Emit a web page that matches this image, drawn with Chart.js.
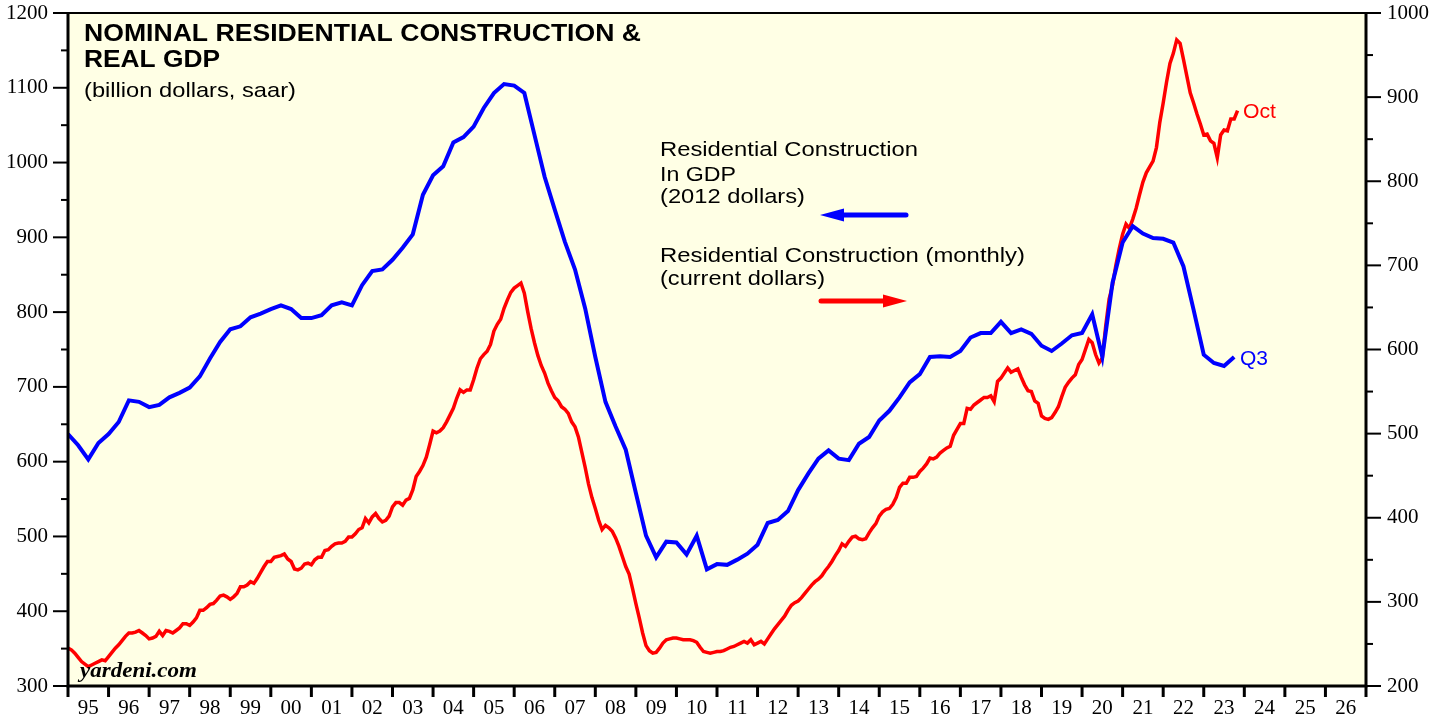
<!DOCTYPE html>
<html>
<head>
<meta charset="utf-8">
<style>
  html, body { margin: 0; padding: 0; background: #fff; }
  #wrap { width: 1446px; height: 719px; }
</style>
<script src="https://cdn.jsdelivr.net/npm/chart.js@4.4.0/dist/chart.umd.min.js"></script>
</head>
<body>
<div id="wrap"><canvas id="chart" width="1446" height="719"></canvas></div>
<script>
// Real residential construction in GDP, quarterly, 2012 dollars (left axis), from 1994Q4 to 2023Q3
const blueQuarterly = [
  637,
  622, 603, 625, 637,      // 95
  653, 682, 680, 673,      // 96
  676, 686, 692, 699,      // 97
  714, 738, 760, 777,      // 98
  781, 793, 798, 804,      // 99
  809, 804, 792, 792,      // 00
  796, 809, 813, 809,      // 01
  836, 855, 857, 870,      // 02
  886, 904, 957, 983,      // 03
  995, 1027, 1034, 1048,   // 04
  1073, 1093, 1105, 1103,  // 05
  1093, 1037, 981, 937,    // 06
  894, 857, 805, 740,      // 07
  680, 647, 616, 558,      // 08
  501, 472, 493, 492,      // 09
  476, 501, 456, 463,      // 10
  462, 469, 477, 489,      // 11
  518, 522, 534, 562,      // 12
  584, 604, 615, 604,      // 13
  602, 624, 633, 655,      // 14
  668, 686, 706, 717,      // 15
  740, 741, 740, 748,      // 16
  766, 772, 772, 787,      // 17
  772, 777, 771, 755,      // 18
  748, 758, 769, 772,      // 19
  797, 740, 839, 893,      // 20
  915, 905, 899, 898,      // 21
  893, 861, 803, 743,      // 22
  732, 728, 740            // 23
];

// Nominal residential construction, monthly, current dollars (right axis), Dec 1994 to Oct 2023
const redMonthly = [
  245,
  243, 239, 234, 229, 226, 223, 225, 227, 229, 231, 230, 235,   // 95
  240, 245, 249, 254, 259, 263, 263, 264, 266, 263, 260, 256,   // 96
  257, 259, 265, 260, 266, 265, 263, 266, 269, 274, 274, 272,   // 97
  276, 281, 290, 290, 293, 297, 298, 302, 307, 308, 306, 303,   // 98
  306, 310, 318, 318, 320, 324, 322, 328, 335, 342, 348, 348,   // 99
  353, 354, 355, 357, 351, 348, 339, 338, 340, 345, 346, 344,   // 00
  350, 353, 353, 361, 362, 366, 369, 370, 370, 372, 377, 377,   // 01
  381, 386, 388, 399, 394, 401, 405, 399, 395, 397, 402, 413,   // 02
  418, 418, 415, 421, 423, 433, 449, 455, 462, 472, 487, 503,   // 03
  501, 503, 507, 514, 522, 530, 542, 552, 549, 552, 552, 564,   // 04
  578, 589, 594, 598, 606, 622, 630, 636, 649, 659, 668, 673,   // 05
  676, 679, 667, 645, 625, 608, 593, 581, 572, 560, 551, 543,   // 06
  539, 532, 529, 524, 514, 508, 496, 478, 460, 440, 424, 411,   // 07
  397, 386, 391, 388, 384, 376, 366, 354, 342, 333, 316, 298,   // 08
  281, 263, 248, 242, 239, 240, 245, 251, 255, 256, 257, 257,   // 09
  256, 255, 255, 255, 254, 252, 246, 241, 240, 239, 240, 241,   // 10
  241, 242, 244, 246, 247, 249, 251, 253, 251, 255, 249, 251,   // 11
  253, 250, 256, 262, 268, 273, 278, 283, 290, 296, 299, 301,   // 12
  305, 310, 315, 320, 324, 327, 331, 337, 342, 348, 355, 361,   // 13
  369, 366, 372, 377, 378, 375, 374, 375, 382, 388, 393, 402,   // 14
  407, 410, 411, 416, 424, 436, 441, 441, 448, 448, 449, 455,   // 15
  459, 464, 471, 470, 472, 477, 480, 483, 485, 498, 505, 512,   // 16
  512, 530, 529, 534, 537, 540, 543, 543, 545, 538, 562, 566,   // 17
  572, 578, 573, 575, 577, 567, 558, 551, 550, 539, 536, 521,   // 18
  518, 517, 519, 525, 532, 544, 555, 561, 566, 570, 582, 588,   // 19
  600, 612, 608, 594, 584, 590, 628, 660, 676, 700, 720, 737,   // 20
  749, 744, 755, 768, 784, 799, 810, 817, 824, 840, 870, 893,   // 21
  918, 940, 952, 968, 964, 945, 925, 905, 893, 880, 868, 855,   // 22
  856, 848, 845, 828, 855, 861, 860, 874, 874, 884              // 23
];

const xTickLabels = ['95','96','97','98','99','00','01','02','03','04','05','06','07','08','09','10',
                     '11','12','13','14','15','16','17','18','19','20','21','22','23','24','25','26'];
const firstYear = 1995;

const bluePoints = blueQuarterly.map((v, i) => ({ x: firstYear + i / 4, y: v }));
const redPoints = redMonthly.map((v, i) => ({ x: firstYear + i / 12, y: v }));

const tickFont = { family: 'Liberation Serif', size: 21 };

function fitText(ctx, s, x, y, font, color, w) {
  ctx.save();
  ctx.font = font;
  ctx.fillStyle = color;
  ctx.textBaseline = 'alphabetic';
  ctx.textAlign = 'left';
  const m = ctx.measureText(s).width;
  ctx.translate(x, y);
  ctx.scale(w / m, 1);
  ctx.fillText(s, 0, 0);
  ctx.restore();
}

function arrow(ctx, x1, x2, y, color, headLeft) {
  ctx.save();
  ctx.strokeStyle = color;
  ctx.fillStyle = color;
  ctx.lineWidth = 5;
  ctx.lineCap = 'round';
  ctx.beginPath();
  if (headLeft) { ctx.moveTo(x1 + 18, y); ctx.lineTo(x2, y); }
  else { ctx.moveTo(x1, y); ctx.lineTo(x2 - 18, y); }
  ctx.stroke();
  ctx.beginPath();
  if (headLeft) { ctx.moveTo(x1, y); ctx.lineTo(x1 + 24, y - 6.5); ctx.lineTo(x1 + 24, y + 6.5); }
  else { ctx.moveTo(x2, y); ctx.lineTo(x2 - 24, y - 6.5); ctx.lineTo(x2 - 24, y + 6.5); }
  ctx.closePath();
  ctx.fill();
  ctx.restore();
}

// drop the label overhang padding chart.js adds so the plot fills the frame
function noPad(s) {
  s.paddingTop = 0; s.paddingBottom = 0; s.paddingLeft = 0; s.paddingRight = 0;
}

const decorations = {
  id: 'decorations',
  beforeDraw(chart) {
    const { ctx, chartArea: a } = chart;
    ctx.save();
    ctx.fillStyle = '#fff';
    ctx.fillRect(0, 0, chart.width, chart.height);
    ctx.fillStyle = '#FFFFE5';
    ctx.fillRect(a.left, a.top, a.right - a.left, a.bottom - a.top);
    ctx.restore();
  },
  afterDatasetsDraw(chart) {
    const { ctx, chartArea: a, scales } = chart;
    ctx.save();
    ctx.strokeStyle = '#000';

    // y tick marks
    ctx.lineWidth = 2;
    for (let v = 300; v <= 1200; v += 50) {
      const y = scales.yL.getPixelForValue(v);
      const len = v % 100 === 0 ? 15 : 7;
      ctx.beginPath(); ctx.moveTo(a.left - len, y); ctx.lineTo(a.left, y); ctx.stroke();
    }
    for (let v = 200; v <= 1000; v += 50) {
      const y = scales.yR.getPixelForValue(v);
      const len = v % 100 === 0 ? 15 : 7;
      ctx.beginPath(); ctx.moveTo(a.right, y); ctx.lineTo(a.right + len, y); ctx.stroke();
    }
    // year boundary marks
    ctx.lineWidth = 3;
    for (let yr = firstYear; yr <= firstYear + xTickLabels.length; yr++) {
      const x = scales.x.getPixelForValue(yr);
      ctx.beginPath(); ctx.moveTo(x, a.bottom); ctx.lineTo(x, a.bottom + 11); ctx.stroke();
    }

    // frame
    ctx.lineWidth = 3;
    ctx.beginPath();
    ctx.moveTo(a.left, a.top); ctx.lineTo(a.left, a.bottom); ctx.lineTo(a.right, a.bottom); ctx.lineTo(a.right, a.top);
    ctx.stroke();
    ctx.lineWidth = 2;
    ctx.beginPath(); ctx.moveTo(a.left, a.top); ctx.lineTo(a.right, a.top); ctx.stroke();

    // title and notes
    fitText(ctx, 'NOMINAL RESIDENTIAL CONSTRUCTION &', 84, 41, 'bold 23px "Liberation Sans"', '#000', 557);
    fitText(ctx, 'REAL GDP', 84, 67, 'bold 23px "Liberation Sans"', '#000', 136);
    fitText(ctx, '(billion dollars, saar)', 84, 97, '21px "Liberation Sans"', '#000', 212);

    fitText(ctx, 'Residential Construction', 660, 156, '21px "Liberation Sans"', '#000', 258);
    fitText(ctx, 'In GDP', 660, 181, '21px "Liberation Sans"', '#000', 76);
    fitText(ctx, '(2012 dollars)', 660, 203, '21px "Liberation Sans"', '#000', 145);
    arrow(ctx, 820, 906, 215, '#0000FF', true);

    fitText(ctx, 'Residential Construction (monthly)', 660, 262, '21px "Liberation Sans"', '#000', 365);
    fitText(ctx, '(current dollars)', 660, 285, '21px "Liberation Sans"', '#000', 165);
    arrow(ctx, 821, 907, 301, '#FF0000', false);

    fitText(ctx, 'Oct', 1243, 118, '21px "Liberation Sans"', '#FF0000', 33);
    fitText(ctx, 'Q3', 1240, 365, '21px "Liberation Sans"', '#0000FF', 28);

    fitText(ctx, 'yardeni.com', 80, 677, 'italic bold 22px "Liberation Serif"', '#000', 117);
    ctx.restore();
  }
};

new Chart(document.getElementById('chart'), {
  type: 'line',
  data: {
    datasets: [
      {
        label: 'Residential Construction In GDP (2012 dollars)',
        data: bluePoints,
        yAxisID: 'yL',
        borderColor: '#0000FF',
        borderWidth: 4,
        pointRadius: 0,
        tension: 0
      },
      {
        label: 'Residential Construction (monthly) (current dollars)',
        data: redPoints,
        yAxisID: 'yR',
        borderColor: '#FF0000',
        borderWidth: 3.5,
        pointRadius: 0,
        tension: 0
      }
    ]
  },
  options: {
    responsive: false,
    devicePixelRatio: 1,
    animation: false,
    parsing: false,
    layout: { autoPadding: false, padding: { top: 13, left: 0, right: 0, bottom: 0 } },
    plugins: { legend: { display: false }, tooltip: { enabled: false } },
    scales: {
      x: {
        type: 'linear',
        position: 'bottom',
        min: firstYear,
        max: firstYear + xTickLabels.length,
        grid: { display: false, drawTicks: false },
        border: { display: false },
        afterBuildTicks: s => { s.ticks = xTickLabels.map((_, i) => ({ value: firstYear + i + 0.5 })); },
        ticks: {
          autoSkip: false, maxRotation: 0, minRotation: 0, padding: 10,
          color: '#000', font: tickFont,
          callback: (v, i) => xTickLabels[i]
        },
        afterFit: s => { s.height = 33; noPad(s); }
      },
      yL: {
        type: 'linear',
        position: 'left',
        min: 300, max: 1200,
        grid: { display: false, drawTicks: false },
        border: { display: false },
        ticks: { stepSize: 50, padding: 20, color: '#000', font: tickFont,
                 callback: v => (v % 100 === 0 ? String(v) : '') },
        afterFit: s => { s.width = 68; noPad(s); }
      },
      yR: {
        type: 'linear',
        position: 'right',
        min: 200, max: 1000,
        grid: { display: false, drawTicks: false },
        border: { display: false },
        ticks: { stepSize: 50, padding: 21, color: '#000', font: tickFont,
                 callback: v => (v % 100 === 0 ? String(v) : '') },
        afterFit: s => { s.width = 80; noPad(s); }
      }
    }
  },
  plugins: [decorations]
});
</script>
</body>
</html>
